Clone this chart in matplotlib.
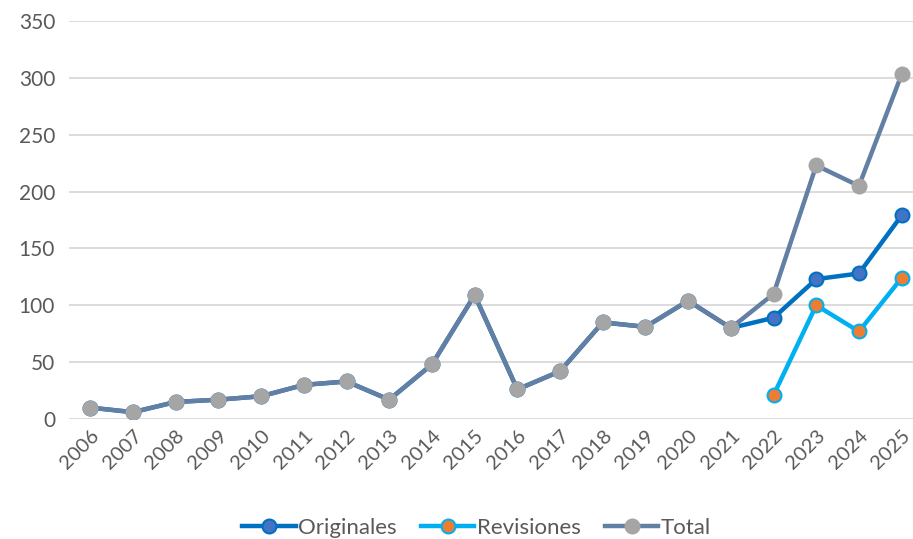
import numpy as np
import matplotlib.pyplot as plt

years = [str(y) for y in range(2006, 2026)]
total = [10, 6, 15, 17, 20, 30, 33, 17, 48, 109, 26, 42, 85, 81, 104, 80, 110, 223, 205, 303]
originales = [10, 6, 15, 17, 20, 30, 33, 17, 48, 109, 26, 42, 85, 81, 104, 80, 89, 123, 128, 179]
revisiones = [None] * 16 + [21, 100, 77, 124]

plt.rcParams['font.family'] = ['Lato', 'DejaVu Sans']

fig = plt.figure(figsize=(9.13, 5.39), dpi=100)
ax = fig.add_axes([69 / 913, 120 / 539, 854 / 913, 398 / 539])

x = np.arange(len(years))
rev = np.array([np.nan if v is None else v for v in revisiones], dtype=float)

ax.plot(x, originales, color='#0070C0', lw=3.2, marker='o', ms=10,
        mfc='#4472C4', mec='#0070C0', mew=1.5, label='Originales', zorder=3)
ax.plot(x, rev, color='#00B0F0', lw=3.2, marker='o', ms=10,
        mfc='#ED7D31', mec='#00B0F0', mew=1.5, label='Revisiones', zorder=3)
ax.plot(x, total, color='#637FA3', lw=3.2, marker='o', ms=10,
        mfc='#A5A5A5', mec='#A5A5A5', mew=1.5, label='Total', zorder=4)

ax.set_xlim(-0.5, len(years) - 0.5)
ax.set_ylim(0, 350)
ax.set_yticks(range(0, 351, 50))
ax.set_xticks(x)
ax.set_xticklabels(years, rotation=45, ha='right', rotation_mode='anchor')
ax.grid(axis='y', color='#D9D9D9', lw=1.3)
ax.set_axisbelow(True)
for s in ax.spines.values():
    s.set_visible(False)
ax.tick_params(length=0, labelsize=15, colors='#595959', pad=10)
ax.tick_params(axis='x', labelsize=14.5, pad=6)

leg = fig.legend(loc='lower center', bbox_to_anchor=(0.522, -0.035), ncol=3,
                 frameon=False, fontsize=16, handlelength=2.4, columnspacing=1.1,
                 handletextpad=0.1)
for t in leg.get_texts():
    t.set_color('#595959')

fig.savefig('out.png', dpi=100)
